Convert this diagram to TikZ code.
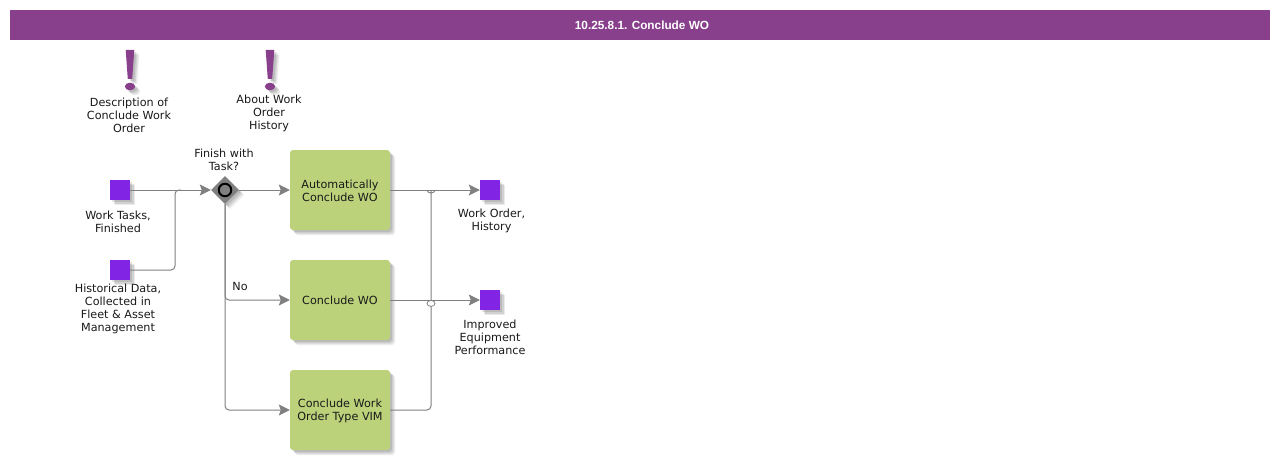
\documentclass[tikz,border=0pt]{standalone}
\usepackage{fontspec}
\setmainfont{DejaVu Sans}
\newfontfamily\barfont{Liberation Sans}
\usepackage{tikz}
\usetikzlibrary{shapes.geometric,arrows.meta,positioning,shadows}
\definecolor{barpurple}{HTML}{883F8C}
\definecolor{datapurple}{HTML}{8224E3}
\definecolor{taskgreen}{HTML}{BBD27A}
\definecolor{wiregray}{HTML}{808080}
\newcommand{\taskstrut}{\rule{0pt}{10.9pt}}
\tikzset{
    softshadow/.style={
        drop shadow={shadow xshift=2pt,shadow yshift=-2pt,fill=black,opacity=.11},
        drop shadow={shadow xshift=3.5pt,shadow yshift=-3.5pt,fill=black,opacity=.11},
        drop shadow={shadow xshift=5pt,shadow yshift=-5pt,fill=black,opacity=.08}
    },
    bangmark/.pic={
        \foreach \sh/\op in {5/.08,3.5/.11,2/.11} {
            \fill[black,opacity=\op,shift={(\sh,-\sh)}] (-4.3,0) -- (4.3,0) -- (2.2,-29) -- (-2.2,-29) -- cycle;
            \fill[black,opacity=\op,shift={(\sh,-\sh)}] (0,-36.5) ellipse[x radius=5.2,y radius=3.8];
        }
        \fill[barpurple] (-4.3,0) -- (4.3,0) -- (2.2,-29) -- (-2.2,-29) -- cycle;
        \fill[barpurple] (0,-36.5) ellipse[x radius=5.2,y radius=3.8];
    }
}
\begin{document}
\begin{tikzpicture}[
            x=1pt,y=1pt,
            every node/.style={on grid},
            txt/.style={align=center,font=\fontsize{11.2}{13}\selectfont,inner sep=0pt,text=black!90},
            datasq/.style={rectangle,fill=datapurple,minimum size=20pt,inner sep=0pt,softshadow},
            task/.style={rectangle,rounded corners=3pt,fill=taskgreen,minimum width=100pt,minimum height=80pt,inner sep=0pt,align=center,font=\fontsize{11.2}{13}\selectfont,text=black!90,softshadow},
            wire/.style={draw=wiregray,line width=1pt},
            flow/.style={wire,-{Stealth[length=11pt,width=11pt,inset=2pt,fill=wiregray]}},
            roundwire/.style={rounded corners=4pt}
        ]
        \useasboundingbox (0,0) rectangle (1280,-460);

        % Draw title bar %
        \node[rectangle,fill=barpurple,minimum width=1260pt,minimum height=30pt,inner sep=0pt] (bar) at (640,-25) {};
        \node[font=\barfont\fontsize{11.8}{14}\selectfont\bfseries,text=white,inner sep=0pt,right=2pt of bar.center,anchor=center] (bartext) {10.25.8.1. Conclude WO};

        % Draw notes %
        \coordinate (bangdesc) at (130,-50);
        \coordinate[right=140pt of bangdesc] (banghist);
        \pic at (bangdesc) {bangmark};
        \pic at (banghist) {bangmark};
        \node[txt,below=65pt of bangdesc,anchor=center,xshift=-1pt] (notedesc) {Description of\\Conclude Work\\Order};
        \node[txt,below=63pt of banghist,anchor=center,xshift=-1pt] (notehist) {About Work\\Order\\History};

        % Draw inputs %
        \node[datasq] (tasks) at (120,-190) {};
        \node[datasq,below=80pt of tasks] (hist) {};
        \node[txt,below=31.5pt of tasks,xshift=-2pt] (taskstxt) {Work Tasks,\\Finished};
        \node[txt,below=39pt of hist,xshift=-2pt] (histtxt) {Historical Data,\\Collected in\\Fleet \& Asset\\Management};

        % Draw gateway %
        \node[diamond,fill=wiregray,minimum size=28pt,inner sep=0pt,softshadow,right=105pt of tasks] (gate) {};
        \node[circle,draw=black,line width=2pt,fill=wiregray,minimum size=12.5pt,inner sep=0pt] (ring) at (gate) {};
        \node[txt,above=30.5pt of gate,xshift=-1pt] (gatetxt) {Finish with\\Task?};
        \node[txt,below=96.5pt of gate,xshift=15pt] (notxt) {No};

        % Draw tasks %
        \node[task,right=115pt of gate] (auto) {\taskstrut Automatically\\Conclude WO};
        \node[task,below=110pt of auto] (wo) {Conclude WO};
        \node[task,below=110pt of wo] (vim) {\taskstrut Conclude Work\\Order Type VIM};

        % Draw outputs %
        \node[datasq,right=150pt of auto] (order) {};
        \node[datasq,below=110pt of order] (perf) {};
        \node[txt,below=31pt of order,xshift=1.5pt] (ordertxt) {Work Order,\\History};
        \node[txt,below=37pt of perf] (perftxt) {Improved\\Equipment\\Performance};

        % Draw arrows %
        \coordinate[right=55pt of tasks] (joinin);
        \coordinate[right=91pt of auto] (joinup);
        \draw[flow] (tasks) -- (gate);
        \draw[wire,roundwire] (hist) -| (joinin) -- ([xshift=6pt]joinin);
        \draw[flow] (gate) -- (auto);
        \draw[flow,roundwire] (gate) |- (wo);
        \draw[flow,roundwire] (gate) |- (vim);
        \draw[wire,roundwire] (vim.east) -| (joinup);
        \node[ellipse,draw=wiregray,fill=white,line width=.8pt,minimum width=8pt,minimum height=6pt,inner sep=0pt,below=110pt of joinup] (hop) {};
        \draw[wire] ([xshift=-4pt]joinup) arc[start angle=180,end angle=360,x radius=4pt,y radius=3pt];
        \draw[flow] (auto.east) -- (order);
        \draw[flow] (wo.east) -- (perf);
\end{tikzpicture}
\end{document}
